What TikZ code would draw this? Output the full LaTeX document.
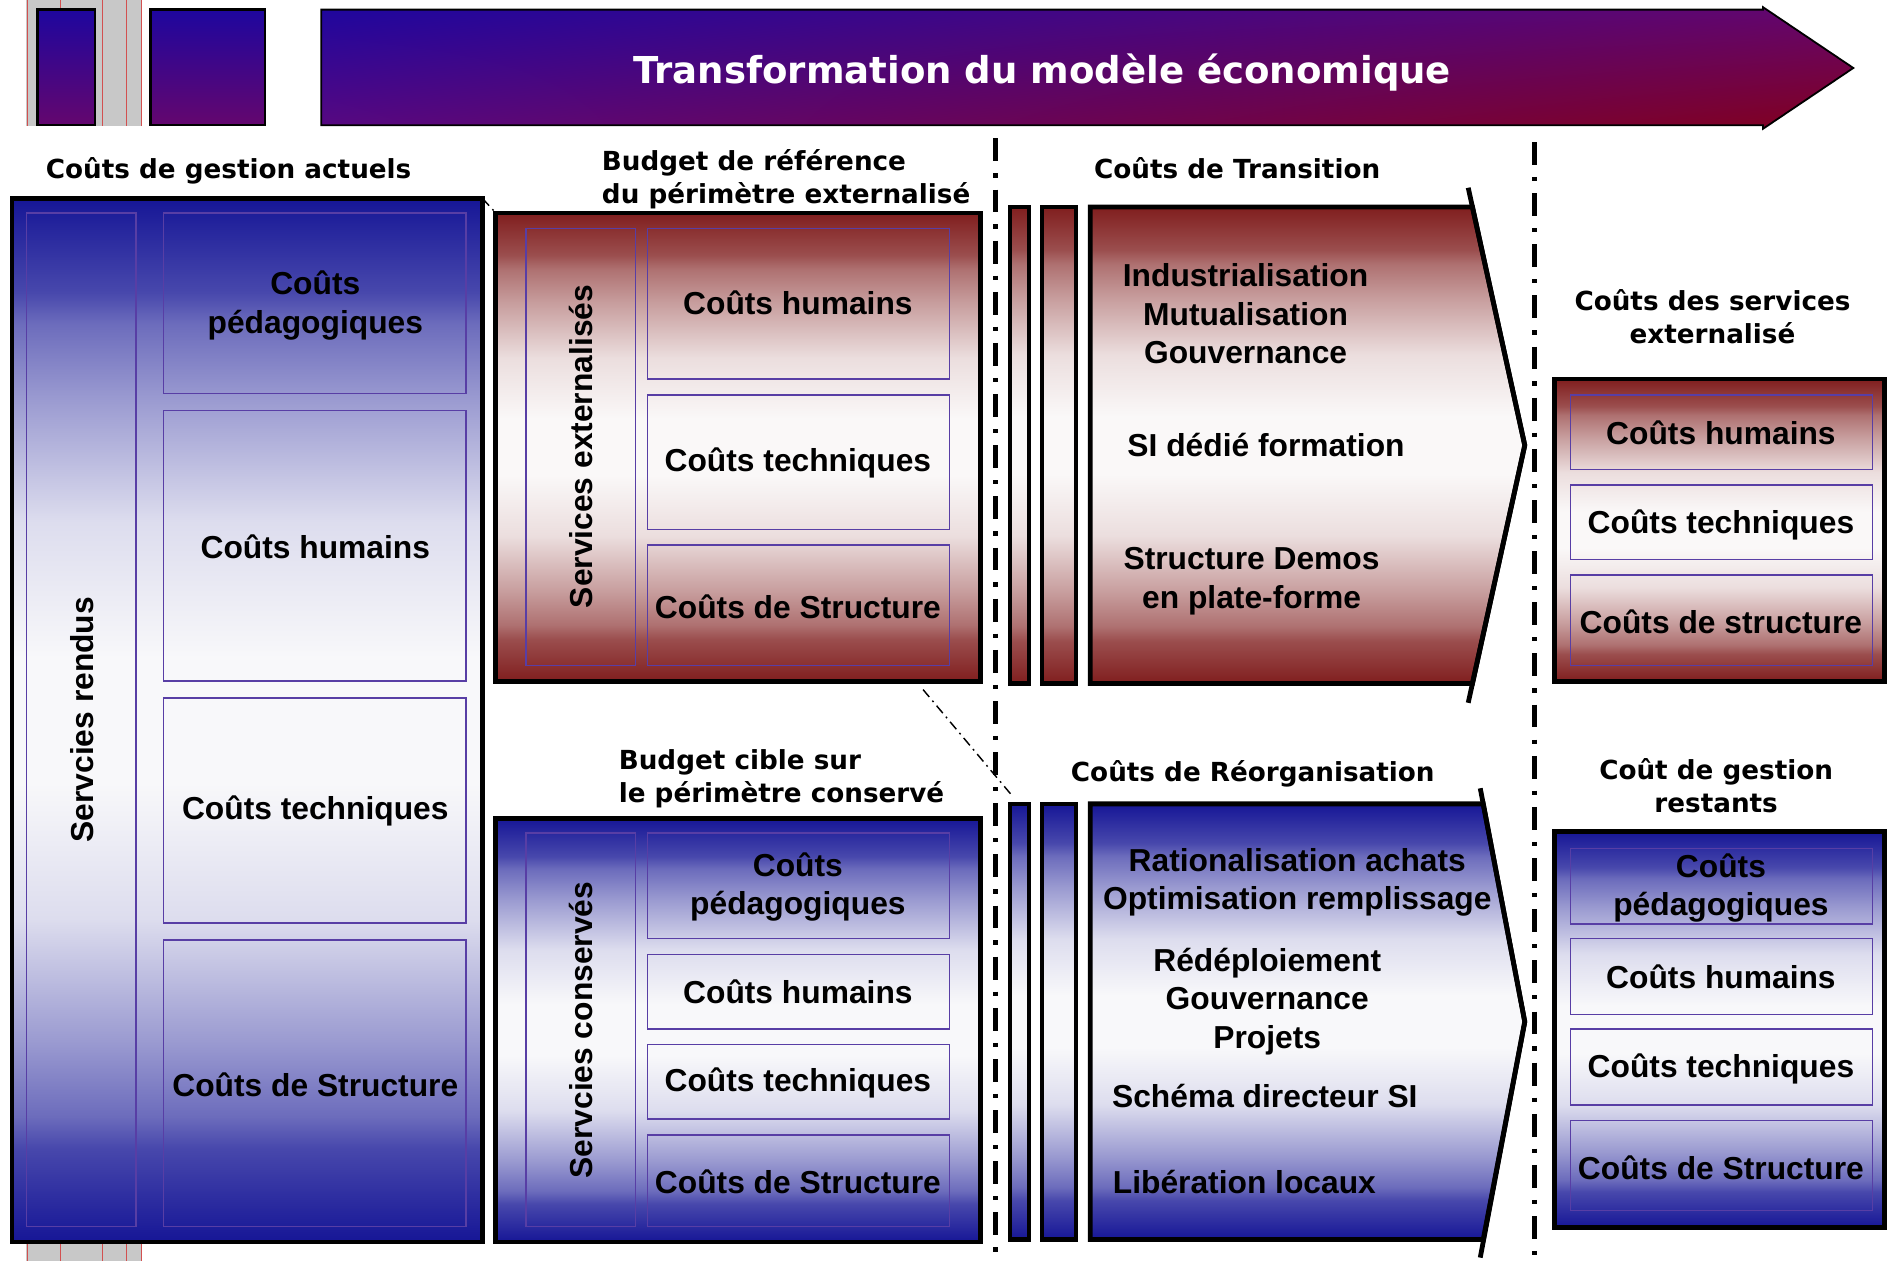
\documentclass[tikz,border=0pt]{standalone}
\usepackage{fontspec}
\setmainfont{Liberation Sans}
\newfontfamily\hdrfont{DejaVu Sans Bold}
\usetikzlibrary{shadings}
\definecolor{dblue}{RGB}{22,22,150}
\definecolor{dred}{RGB}{128,30,30}
\definecolor{midb}{RGB}{248,248,250}
\definecolor{midr}{RGB}{250,248,248}
\colorlet{bA}{midb!22!dblue}
\colorlet{bB}{midb!38!dblue}
\colorlet{bC}{midb!58!dblue}
\colorlet{bD}{midb!88!dblue}
\colorlet{rA}{midr!22!dred}
\colorlet{rB}{midr!38!dred}
\colorlet{rC}{midr!58!dred}
\colorlet{rD}{midr!88!dred}
\definecolor{inl}{RGB}{88,62,165}
\definecolor{hblue}{RGB}{30,6,158}
\definecolor{hpurp}{RGB}{100,6,110}
\definecolor{hpurpb}{RGB}{88,8,128}
\definecolor{hred}{RGB}{130,0,30}
\definecolor{stripe}{RGB}{200,200,200}
\definecolor{stripeline}{RGB}{210,80,80}
\pgfdeclareverticalshading{blueshade}{100bp}{color(0bp)=(dblue); color(25bp)=(dblue); color(29.5bp)=(bA); color(31bp)=(bB); color(34.5bp)=(bC); color(40.5bp)=(bD); color(47bp)=(midb); color(53bp)=(midb); color(59.5bp)=(bD); color(65.5bp)=(bC); color(69bp)=(bB); color(70.5bp)=(bA); color(75bp)=(dblue); color(100bp)=(dblue)}
\pgfdeclareverticalshading{redshade}{100bp}{color(0bp)=(dred); color(25bp)=(dred); color(29.5bp)=(rA); color(31bp)=(rB); color(34.5bp)=(rC); color(40.5bp)=(rD); color(47bp)=(midr); color(53bp)=(midr); color(59.5bp)=(rD); color(65.5bp)=(rC); color(69bp)=(rB); color(70.5bp)=(rA); color(75bp)=(dred); color(100bp)=(dred)}
\pgfdeclareverticalshading{hdrshade}{100bp}{color(0bp)=(hpurp); color(25bp)=(hpurp); color(75bp)=(hblue); color(100bp)=(hblue)}
\begin{document}
\begin{tikzpicture}[x=1pt,y=-1pt,
  boxtxt/.style={font=\bfseries\fontsize{26.4}{32}\selectfont, align=center, inner sep=0pt},
  hdrtxt/.style={font=\hdrfont\fontsize{21.8}{27}\selectfont, align=center, inner sep=0pt},
  inbox/.style={draw=inl, line width=1.3pt},
  bluebox/.style={shading=blueshade, draw=black, line width=4pt},
  redbox/.style={shading=redshade, draw=black, line width=4pt},
  sepline/.style={line width=3.8pt, dash pattern=on 19pt off 10pt on 3.5pt off 10pt},
  zoomline/.style={line width=1.2pt, dash pattern=on 8pt off 4pt on 1.5pt off 4pt}]
\useasboundingbox (0,0) rectangle (1568,1048);
\fill[white] (0,0) rectangle (1568,1048);

% header stripe
\fill[stripe] (22,0) rectangle (118,105);
\fill[stripe] (22,1033) rectangle (118,1048);
\foreach \x in {22.5,50,85.5,105,117.5}{
  \draw[stripeline, line width=0.8pt] (\x,0) -- (\x,105);
  \draw[stripeline, line width=0.8pt] (\x,1033) -- (\x,1048);}

% header boxes and arrow
\shadedraw[shading=hdrshade, draw=black, line width=2pt] (31,8) rectangle (79,104);
\shadedraw[shading=hdrshade, draw=black, line width=2pt] (125,8) rectangle (220,104);
\shadedraw[upper left=hblue, upper right=hpurp, lower left=hpurpb, lower right=hred, draw=black, line width=1.5pt]
  (267,8) -- (1465,8) -- (1465,6) -- (1540,56.5) -- (1465,107) -- (1465,104) -- (267,104) -- cycle;
\node[font=\hdrfont\fontsize{30.8}{36}\selectfont, text=white] (title) at (866,60) {Transformation du modèle économique};

% separators
\coordinate (s1top) at (827,115);
\coordinate (s1bot) at (827,1048);
\coordinate (s2top) at (1275,118);
\coordinate (s2bot) at (1275,1048);
\draw[sepline] (s1top) -- (s1bot);
\draw[sepline] (s2top) -- (s2bot);

% section labels
\node[hdrtxt] (lab1) at (190,142) {Coûts de gestion actuels};
\node[hdrtxt, align=left, anchor=west] (lab2) at (500,149) {Budget de référence\\du périmètre externalisé};
\node[hdrtxt] (lab3) at (1028,140) {Coûts de Transition};
\node[hdrtxt] (lab4) at (1423,263) {Coûts des services\\externalisé};
\node[hdrtxt, align=left, anchor=west] (lab5) at (514,647) {Budget cible sur\\le périmètre conservé};
\node[hdrtxt] (lab6) at (1041,643) {Coûts de Réorganisation};
\node[hdrtxt] (lab7) at (1426,653) {Coût de gestion\\restants};

% left big box
\shadedraw[bluebox] (10,165) coordinate (Lnw) rectangle (401,1032);
\coordinate (Lne) at (401,165);
\draw[inbox] (22,177) rectangle (113,1019);
\draw[inbox] (136,177) rectangle (387,327);
\draw[inbox] (136,341) rectangle (387,566);
\draw[inbox] (136,580) rectangle (387,767);
\draw[inbox] (136,781) rectangle (387,1019);
\node[boxtxt, rotate=90] (Lsr) at (68,598) {Servcies rendus};
\node[boxtxt] (Lp) at (262,254) {Coûts\\pédagogiques};
\node[boxtxt] (Lh) at (262,454) {Coûts humains};
\node[boxtxt] (Lt) at (262,674) {Coûts techniques};
\node[boxtxt] (Ls) at (262,901) {Coûts de Structure};

% upper middle red box
\shadedraw[redbox] (412,177) rectangle (815,566);
\coordinate (Rnw) at (412,177);
\draw[inbox] (437,190) rectangle (528,553);
\draw[inbox] (538,190) rectangle (789,315);
\draw[inbox] (538,328) rectangle (789,440);
\draw[inbox] (538,453) rectangle (789,553);
\node[boxtxt, rotate=90] (Rse) at (483,371) {Services externalisés};
\node[boxtxt] (Rh) at (663,252) {Coûts humains};
\node[boxtxt] (Rt) at (663,385) {Coûts techniques};
\node[boxtxt] (Rs) at (663,504) {Coûts de Structure};

% lower middle blue box
\shadedraw[bluebox] (412,680) rectangle (815,1032);
\draw[inbox] (437,692) rectangle (528,1019);
\draw[inbox] (538,692) rectangle (789,780);
\draw[inbox] (538,793) rectangle (789,855);
\draw[inbox] (538,868) rectangle (789,930);
\draw[inbox] (538,943) rectangle (789,1019);
\node[boxtxt, rotate=90] (Bsc) at (483,856) {Servcies conservés};
\node[boxtxt] (Bp) at (663,737) {Coûts\\pédagogiques};
\node[boxtxt] (Bh) at (663,824) {Coûts humains};
\node[boxtxt] (Bt) at (663,900) {Coûts techniques};
\node[boxtxt] (Bs) at (663,982) {Coûts de Structure};

% zoom connectors
\coordinate (zA) at (767,573);
\coordinate (zB) at (840,660);
\draw[zoomline] (Lne) -- (Rnw);
\draw[zoomline] (zA) -- (zB);

% transition column
\shadedraw[redbox, line width=3.5pt] (839,172) rectangle (855,568);
\shadedraw[redbox, line width=3.5pt] (866,172) rectangle (894,568);
\shadedraw[redbox] (906,172) -- (1223.5,172) -- (1267,370) -- (1223.5,568) -- (906,568) -- cycle;
\draw[black, line width=4pt] (1220,156) -- (1267,370) -- (1220,584);
\node[boxtxt] (T1) at (1035,261) {Industrialisation\\Mutualisation\\Gouvernance};
\node[boxtxt] (T2) at (1052,370) {SI dédié formation};
\node[boxtxt] (T3) at (1040,483) {Structure Demos\\en plate-forme};

% reorganisation column
\shadedraw[bluebox, line width=3.5pt] (839,668) rectangle (855,1030);
\shadedraw[bluebox, line width=3.5pt] (866,668) rectangle (894,1030);
\shadedraw[bluebox] (906,668) -- (1232.5,668) -- (1267,849) -- (1232.5,1030) -- (906,1030) -- cycle;
\draw[black, line width=4pt] (1230,655) -- (1267,849) -- (1230,1045);
\node[boxtxt] (O1) at (1078,733) {Rationalisation achats\\Optimisation remplissage};
\node[boxtxt] (O2) at (1053,832) {Rédéploiement\\Gouvernance\\Projets};
\node[boxtxt] (O3) at (1051,911) {Schéma directeur SI};
\node[boxtxt] (O4) at (1034,982) {Libération locaux};

% right upper red box
\shadedraw[redbox] (1292,315) rectangle (1566,566);
\draw[inbox] (1305,328) rectangle (1556,390);
\draw[inbox] (1305,403) rectangle (1556,465);
\draw[inbox] (1305,478) rectangle (1556,553);
\node[boxtxt] (Xh) at (1430,360) {Coûts humains};
\node[boxtxt] (Xt) at (1430,436) {Coûts techniques};
\node[boxtxt] (Xs) at (1430,517) {Coûts de structure};

% right lower blue box
\shadedraw[bluebox] (1292,691) rectangle (1566,1020);
\draw[inbox] (1305,705) rectangle (1556,768);
\draw[inbox] (1305,780) rectangle (1556,843);
\draw[inbox] (1305,855) rectangle (1556,918);
\draw[inbox] (1305,931) rectangle (1556,1006);
\node[boxtxt] (Yp) at (1430,738) {Coûts\\pédagogiques};
\node[boxtxt] (Yh) at (1430,812) {Coûts humains};
\node[boxtxt] (Yt) at (1430,888) {Coûts techniques};
\node[boxtxt] (Ys) at (1430,970) {Coûts de Structure};
\end{tikzpicture}
\end{document}
